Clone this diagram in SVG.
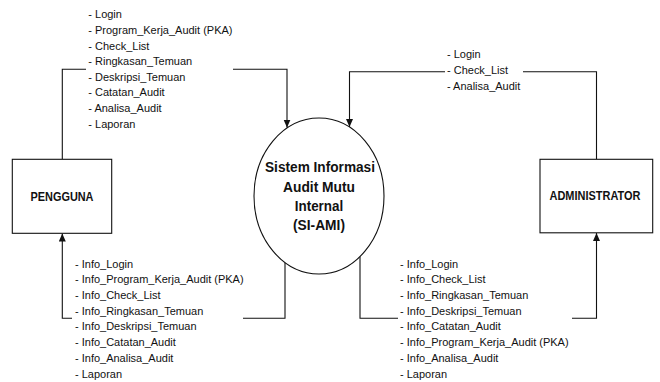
<svg xmlns="http://www.w3.org/2000/svg" width="660" height="382" viewBox="0 0 660 382">
  <style>
    .edge { fill: none; stroke: #111; stroke-width: 1.1; }
    .box { fill: #fff; stroke: #111; stroke-width: 1.1; }
    .lbl { font-family: "Liberation Sans", Arial, sans-serif; font-size: 11.6px; fill: #111; }
    .ttl { font-family: "Liberation Sans", Arial, sans-serif; font-weight: bold; fill: #111; text-anchor: middle; }
  </style>
  <defs>
    <marker id="arrow" markerUnits="userSpaceOnUse" markerWidth="9" markerHeight="8" refX="8" refY="3.5" orient="auto">
      <path d="M0,0 L8,3.5 L0,7 z" fill="#111"/>
    </marker>
  </defs>

  <rect width="660" height="382" fill="#fff"/>

  <!-- data flows -->
  <g id="connectors">
    <!-- PENGGUNA to system -->
    <path class="edge" d="M62.3,159.3 V69.3 H86"/>
    <path class="edge" d="M233,69.3 H287 V127.5" marker-end="url(#arrow)"/>
    <!-- ADMINISTRATOR to system -->
    <path class="edge" d="M596.5,159.3 V71.7 H523"/>
    <path class="edge" d="M445,71.7 H349.5 V127" marker-end="url(#arrow)"/>
    <!-- system to PENGGUNA -->
    <path class="edge" d="M285,263 V318.3 H243"/>
    <path class="edge" d="M72,318.3 H62.3 V233.5" marker-end="url(#arrow)"/>
    <!-- system to ADMINISTRATOR -->
    <path class="edge" d="M360,256.5 V318.3 H398"/>
    <path class="edge" d="M572,318.3 H596.5 V233" marker-end="url(#arrow)"/>
  </g>

  <!-- flow labels (slightly condensed lettering) -->
  <g id="labels-pengguna-in" class="lbl" transform="translate(88.3,0) scale(0.948,1)">
    <text x="0" y="18.3">- Login</text>
    <text x="0" y="33.9">- Program_Kerja_Audit (PKA)</text>
    <text x="0" y="49.6">- Check_List</text>
    <text x="0" y="65.2">- Ringkasan_Temuan</text>
    <text x="0" y="80.8">- Deskripsi_Temuan</text>
    <text x="0" y="96.5">- Catatan_Audit</text>
    <text x="0" y="112.1">- Analisa_Audit</text>
    <text x="0" y="127.7">- Laporan</text>
  </g>
  <g id="labels-admin-in" class="lbl" transform="translate(447,0) scale(0.948,1)">
    <text x="0" y="58.5">- Login</text>
    <text x="0" y="74.2">- Check_List</text>
    <text x="0" y="89.9">- Analisa_Audit</text>
  </g>
  <g id="labels-pengguna-out" class="lbl" transform="translate(75,0) scale(0.948,1)">
    <text x="0" y="267.7">- Info_Login</text>
    <text x="0" y="283.4">- Info_Program_Kerja_Audit (PKA)</text>
    <text x="0" y="299.1">- Info_Check_List</text>
    <text x="0" y="314.8">- Info_Ringkasan_Temuan</text>
    <text x="0" y="330.5">- Info_Deskripsi_Temuan</text>
    <text x="0" y="346.2">- Info_Catatan_Audit</text>
    <text x="0" y="361.9">- Info_Analisa_Audit</text>
    <text x="0" y="377.6">- Laporan</text>
  </g>
  <g id="labels-admin-out" class="lbl" transform="translate(400,0) scale(0.948,1)">
    <text x="0" y="267.7">- Info_Login</text>
    <text x="0" y="283.4">- Info_Check_List</text>
    <text x="0" y="299.1">- Info_Ringkasan_Temuan</text>
    <text x="0" y="314.8">- Info_Deskripsi_Temuan</text>
    <text x="0" y="330.5">- Info_Catatan_Audit</text>
    <text x="0" y="346.2">- Info_Program_Kerja_Audit (PKA)</text>
    <text x="0" y="361.9">- Info_Analisa_Audit</text>
    <text x="0" y="377.6">- Laporan</text>
  </g>

  <!-- external entities -->
  <g id="pengguna">
    <rect class="box" x="12.3" y="159.3" width="99.4" height="74"/>
    <text class="ttl" x="62" y="200.5" font-size="13" textLength="63" lengthAdjust="spacingAndGlyphs">PENGGUNA</text>
  </g>
  <g id="administrator">
    <rect class="box" x="540" y="159.3" width="112.7" height="73.5"/>
    <text class="ttl" x="595" y="200" font-size="13" textLength="91" lengthAdjust="spacingAndGlyphs">ADMINISTRATOR</text>
  </g>

  <!-- process -->
  <g id="si-ami">
    <ellipse class="box" cx="319" cy="196" rx="65" ry="78"/>
    <text class="ttl" x="320" y="172.3" font-size="14.5" textLength="110" lengthAdjust="spacingAndGlyphs">Sistem Informasi</text>
    <text class="ttl" x="319" y="191.7" font-size="14.5" textLength="72" lengthAdjust="spacingAndGlyphs">Audit Mutu</text>
    <text class="ttl" x="319" y="211" font-size="14.5" textLength="48.5" lengthAdjust="spacingAndGlyphs">Internal</text>
    <text class="ttl" x="319" y="230.3" font-size="14.5" textLength="52" lengthAdjust="spacingAndGlyphs">(SI-AMI)</text>
  </g>
</svg>
